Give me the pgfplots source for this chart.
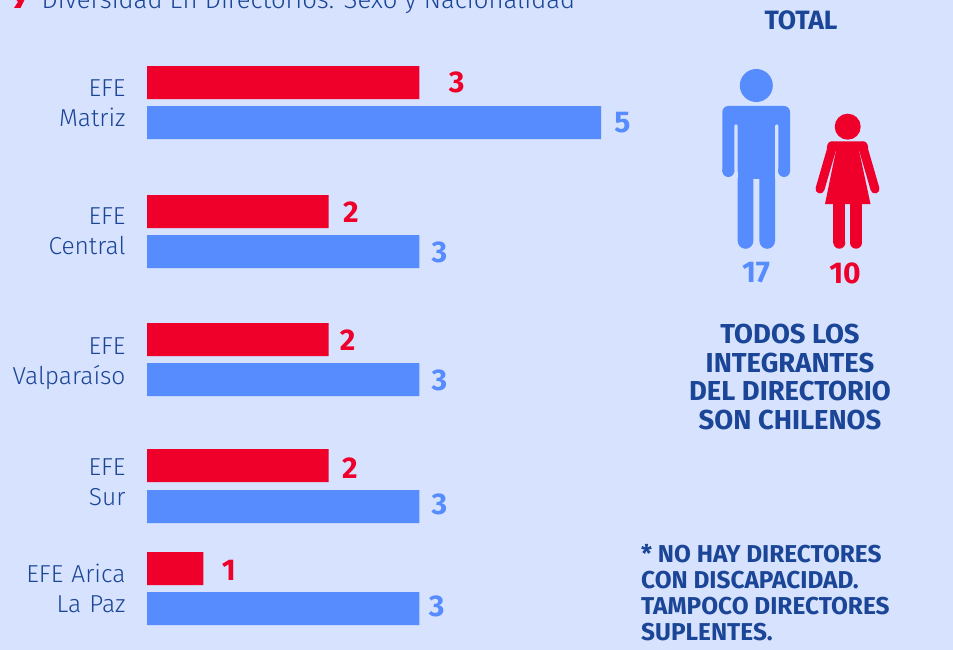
\documentclass[border=0pt]{standalone}
\usepackage{pgfplots}
\pgfplotsset{compat=1.18}
\usepackage{fontspec}
\setmainfont{Fira Sans}
\definecolor{bg}{HTML}{D6E2FE}
\definecolor{navy}{HTML}{1B4596}
\definecolor{rd}{HTML}{EE002B}
\definecolor{bl}{HTML}{578CFF}
\newfontfamily\lightf{Fira Sans Light}
\begin{document}
\begin{tikzpicture}
\path[use as bounding box] (0,0) rectangle (953pt,-650pt);
\clip (0,0) rectangle (953pt,-650pt);
\fill[bg] (0,0) rectangle (953pt,-650pt);
\begin{axis}[
  at={(147pt,-650pt)}, anchor=south west,
  scale only axis, width=454pt, height=650pt,
  xmin=0, xmax=5, ymin=0, ymax=650, y dir=reverse,
  axis line style={draw=none}, clip=false,
  xtick=\empty, major tick length=0pt,
  ytick={103.5,231.5,363.5,482,588},
  yticklabels={EFE\\Matriz,EFE\\Central,EFE\\Valparaíso,EFE\\Sur,EFE Arica\\La Paz},
  y tick label style={align=right,text=navy,font=\lightf\fontsize{24.5}{30}\selectfont,xshift=-18pt,text width=140pt},
]
\addplot[xbar,bar width=33pt,fill=rd,draw=none,bar shift=0pt] coordinates {(3,82.5)(2,211.5)(2,339.5)(2,465.5)(0.62,568.5)};
\addplot[xbar,bar width=33pt,fill=bl,draw=none,bar shift=0pt] coordinates {(5,122.5)(3,251.5)(3,379.5)(3,506.5)(3,608.5)};
\addplot[only marks,mark=none,point meta=explicit symbolic,
  nodes near coords,nodes near coords align={center},
  every node near coord/.append style={text=rd,font=\bfseries\fontsize{30}{30}\selectfont,anchor=center}]
  coordinates {(3.41,82.5)[3](2.245,212)[2](2.21,340)[2](2.235,468)[2](0.9,570)[1]};
\addplot[only marks,mark=none,point meta=explicit symbolic,
  nodes near coords,nodes near coords align={center},
  every node near coord/.append style={text=bl,font=\bfseries\fontsize{30}{30}\selectfont,anchor=center}]
  coordinates {(5.235,122.5)[5](3.22,252)[3](3.22,380)[3](3.22,504)[3](3.19,606)[3]};
\end{axis}
\begin{scope}[x=1pt,y=-1pt]
% title
\node[anchor=base west,text=navy,font=\lightf\fontsize{25.7}{30}\selectfont,inner sep=0] at (41.5,9) {Diversidad En Directorios: Sexo y Nacionalidad};
\fill[rd] (15,-2) -- (25.5,-2) -- (20.5,8) -- (14,8) -- (18,2) -- cycle;
\node[text=navy,font=\bfseries\fontsize{26.5}{29}\selectfont] at (801,20) {TOTAL};
% man
\fill[bl] (756.3,85.5) circle (16.5);
\fill[bl,rounded corners=6pt] (722.3,106) rectangle (790,177);
\fill[bg,rounded corners=1.5pt] (734.3,124.3) rectangle (737.7,190);
\fill[bg,rounded corners=1.5pt] (775,124.3) rectangle (778.3,190);
\fill[bg] (722,172) rectangle (737.7,190);
\fill[bg] (775,172) rectangle (791,190);
\fill[bl] (728.3,171) circle (6);
\fill[bl] (784,171) circle (6);
\fill[bl] (737.7,120) rectangle (775,179);
\fill[bl] (737.7,178) -- (753.3,178) -- (753.3,241) arc[start angle=0,end angle=-180,radius=7.8,y radius=-7.8] -- cycle;
\fill[bl] (759.3,178) -- (775,178) -- (775,241) arc[start angle=0,end angle=-180,radius=7.8,y radius=-7.8] -- cycle;
% woman
\fill[rd] (847.7,126.7) circle (13);
\draw[rd,line width=9pt,line cap=round] (832.5,146) -- (820,189);
\draw[rd,line width=9pt,line cap=round] (862.5,146) -- (875,189);
\fill[rd,rounded corners=3pt] (828.5,141.3) -- (866.5,141.3) -- (869,150) -- (826,150) -- cycle;
\fill[bg] (835.5,155) -- (836.8,155) -- (826.8,204) -- (824,204) -- cycle;
\fill[bg] (858.5,155) -- (859.8,155) -- (871,204) -- (868.5,204) -- cycle;
\fill[rd] (836.5,148) -- (858.5,148) -- (870.5,204) -- (825,204) -- cycle;
\fill[rd] (833.3,203) rectangle (845.3,242.7);
\fill[rd] (850,203) rectangle (862,242.7);
\fill[rd] (839.3,242.7) circle (6);
\fill[rd] (856,242.7) circle (6);
\node[text=bl,font=\bfseries\fontsize{30}{30}\selectfont] at (756,273) {17};
\node[text=rd,font=\bfseries\fontsize{30}{30}\selectfont] at (845,273) {10};
\node[text=navy,font=\bfseries\fontsize{27.4}{28.7}\selectfont,align=center] at (790,377) {TODOS LOS\\INTEGRANTES\\DEL DIRECTORIO\\SON CHILENOS};
\node[anchor=north west,inner sep=0,text=navy,font=\bfseries\fontsize{24.4}{26}\selectfont,align=left] at (641,544.5) {* NO HAY DIRECTORES\\CON DISCAPACIDAD.\\TAMPOCO DIRECTORES\\SUPLENTES.};
\end{scope}
\end{tikzpicture}
\end{document}
